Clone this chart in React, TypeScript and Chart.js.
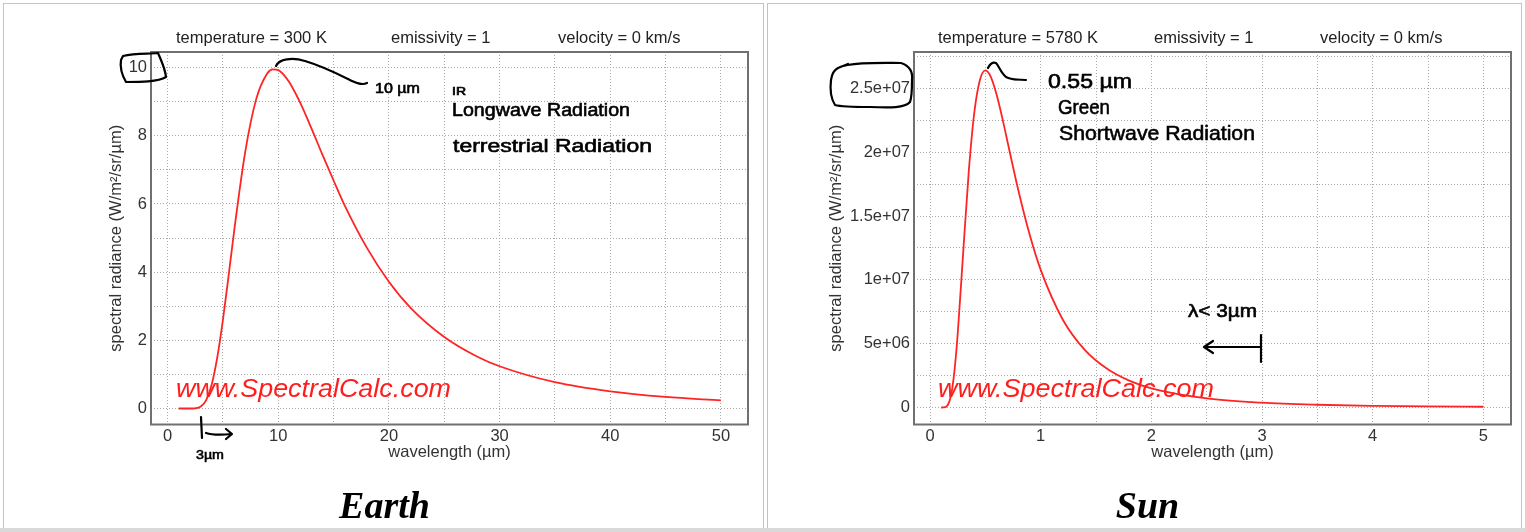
import React, { useEffect, useRef } from "react";
import { Chart, registerables } from "chart.js";
Chart.register(...registerables);

// ---------- data ----------
const earthWavelength = [1, 1.5, 2, 2.5, 3, 3.5, 4, 4.5, 5, 5.5, 6, 7, 8, 9, 9.5, 10, 10.5, 11, 12, 13, 14, 15, 16, 18, 20, 22, 25, 28, 30, 35, 40, 45, 50];
const earthRadiance = [0, 0, 0.0001, 0.006, 0.056, 0.254, 0.72, 1.52, 2.6, 3.86, 5.17, 7.5, 9.07, 9.83, 9.95, 9.93, 9.79, 9.57, 8.96, 8.22, 7.44, 6.69, 5.96, 4.72, 3.72, 2.94, 2.1, 1.52, 1.24, 0.772, 0.502, 0.339, 0.237];

const sunWavelength = [0.1, 0.12, 0.15, 0.175, 0.2, 0.225, 0.25, 0.3, 0.35, 0.4, 0.45, 0.5, 0.55, 0.6, 0.65, 0.7, 0.8, 0.9, 1.0, 1.2, 1.4, 1.6, 1.8, 2.0, 2.5, 3.0, 3.5, 4.0, 4.5, 5.0];
const sunRadiance = [185, 4700, 9.7e4, 4.82e5, 1.465e6, 3.24e6, 5.78e6, 1.221e7, 1.85e7, 2.311e7, 2.564e7, 2.641e7, 2.589e7, 2.456e7, 2.279e7, 2.082e7, 1.694e7, 1.355e7, 1.078e7, 6.88e6, 4.5e6, 3.04e6, 2.11e6, 1.506e6, 7.14e5, 3.79e5, 2.188e5, 1.347e5, 8.74e4, 5.91e4];

const earthXGrid = [0, 5, 10, 15, 20, 25, 30, 35, 40, 45, 50];
const earthXLabels = [0, 10, 20, 30, 40, 50];
const earthYGrid = [0, 1, 2, 3, 4, 5, 6, 7, 8, 9, 10];
const earthYLabels = [0, 2, 4, 6, 8, 10];

const sunXGrid = [0, 0.5, 1, 1.5, 2, 2.5, 3, 3.5, 4, 4.5, 5];
const sunXLabels = [0, 1, 2, 3, 4, 5];
const sunYGrid = [0, 2.5e6, 5e6, 7.5e6, 1e7, 1.25e7, 1.5e7, 1.75e7, 2e7, 2.25e7, 2.5e7, 2.75e7];
const sunYLabelValues = [0, 5e6, 1e7, 1.5e7, 2e7, 2.5e7];
const sunYLabelTexts = ["0", "5e+06", "1e+07", "1.5e+07", "2e+07", "2.5e+07"];

const FONT = "'Liberation Sans', Arial, Helvetica, sans-serif";
const TEXT = "#333";
const GRID = "#a9a9a9";
const RED = "rgb(255,36,36)";
const FS = 16.5;

const framePlugin = {
  id: "frame",
  afterDraw(chart: any) {
    const { ctx, chartArea: a } = chart;
    ctx.save();
    ctx.strokeStyle = "#707070";
    ctx.lineWidth = 2;
    ctx.strokeRect(a.left, a.top, a.right - a.left, a.bottom - a.top);
    ctx.restore();
  },
};

type Cfg = {
  xs: number[];
  ys: number[];
  xMin: number;
  xMax: number;
  yMin: number;
  yMax: number;
  xGrid: number[];
  xLabel: (v: number) => string;
  yGrid: number[];
  yLabel: (v: number) => string;
  yAxisWidth: number;
  yTitlePad: number;
  padRight: number;
};

function makeConfig(c: Cfg): any {
  return {
    type: "scatter",
    data: {
      datasets: [
        {
          data: c.xs.map((x, i) => ({ x, y: c.ys[i] })),
          showLine: true,
          borderColor: RED,
          borderWidth: 1.8,
          pointRadius: 0,
          cubicInterpolationMode: "monotone",
          fill: false,
        },
      ],
    },
    options: {
      responsive: false,
      animation: false,
      devicePixelRatio: 1,
      layout: { padding: { left: 0, top: 52, right: c.padRight, bottom: 0 } },
      plugins: { legend: { display: false }, tooltip: { enabled: false } },
      scales: {
        x: {
          type: "linear",
          min: c.xMin,
          max: c.xMax,
          afterBuildTicks: (s: any) => {
            s.ticks = c.xGrid.map((v) => ({ value: v }));
          },
          afterFit: (s: any) => {
            s.height = 107.5;
          },
          ticks: {
            callback: (v: any) => c.xLabel(Number(v)),
            font: { size: FS, family: FONT },
            color: TEXT,
            padding: 2,
            maxRotation: 0,
            autoSkip: false,
          },
          grid: { color: GRID, drawTicks: false, lineWidth: 1 },
          border: { display: false, dash: [1, 2] },
          title: {
            display: true,
            text: "wavelength (µm)",
            font: { size: FS, family: FONT },
            color: TEXT,
            padding: { top: 0, bottom: 70 },
          },
        },
        y: {
          type: "linear",
          min: c.yMin,
          max: c.yMax,
          afterBuildTicks: (s: any) => {
            s.ticks = c.yGrid.map((v) => ({ value: v }));
          },
          afterFit: (s: any) => {
            s.width = c.yAxisWidth;
          },
          ticks: {
            callback: (v: any) => c.yLabel(Number(v)),
            font: { size: FS, family: FONT },
            color: TEXT,
            padding: 4,
            autoSkip: false,
          },
          grid: { color: GRID, drawTicks: false, lineWidth: 1 },
          border: { display: false, dash: [1, 2] },
          title: {
            display: true,
            text: "spectral radiance (W/m²/sr/µm)",
            font: { size: FS, family: FONT },
            color: TEXT,
            padding: { top: c.yTitlePad, bottom: 0 },
          },
        },
      },
    },
    plugins: [framePlugin],
  };
}

function PlotCanvas({ cfg, left, width }: { cfg: Cfg; left: number; width: number }) {
  const ref = useRef<HTMLCanvasElement | null>(null);
  useEffect(() => {
    if (!ref.current) return;
    const chart = new Chart(ref.current, makeConfig(cfg));
    return () => chart.destroy();
  }, []);
  return (
    <canvas
      ref={ref}
      width={width}
      height={532}
      style={{ position: "absolute", left, top: 0, width, height: 532 }}
    />
  );
}

const earthCfg: Cfg = {
  xs: earthWavelength,
  ys: earthRadiance,
  xMin: -1.5,
  xMax: 52.45,
  yMin: -0.47,
  yMax: 10.46,
  xGrid: earthXGrid,
  xLabel: (v) => (earthXLabels.includes(v) ? String(v) : ""),
  yGrid: earthYGrid,
  yLabel: (v) => (earthYLabels.includes(v) ? String(v) : ""),
  yAxisWidth: 151,
  yTitlePad: 107,
  padRight: 17,
};

const sunCfg: Cfg = {
  xs: sunWavelength,
  ys: sunRadiance,
  xMin: -0.145,
  xMax: 5.25,
  yMin: -1.33e6,
  yMax: 2.785e7,
  xGrid: sunXGrid,
  xLabel: (v) => (sunXLabels.includes(v) ? String(v) : ""),
  yGrid: sunYGrid,
  yLabel: (v) => {
    const i = sunYLabelValues.indexOf(v);
    return i >= 0 ? sunYLabelTexts[i] : "";
  },
  yAxisWidth: 149,
  yTitlePad: 62,
  padRight: 14,
};

const ink = { fill: "none", stroke: "#000", strokeWidth: 2.2, strokeLinecap: "round" as const, strokeLinejoin: "round" as const };
const hand = { fontFamily: FONT, fill: "#000", stroke: "#000", strokeWidth: 0.6 };

export default function App() {
  useEffect(() => {
    document.body.style.margin = "0";
  }, []);
  return (
    <div style={{ position: "absolute", left: 0, top: 0, width: 1525, height: 532, background: "#fff", overflow: "hidden" }}>
      <div style={{ position: "absolute", left: 3, top: 3, width: 761, height: 526, border: "1px solid #c4c4c4", boxSizing: "border-box" }} />
      <div style={{ position: "absolute", left: 767, top: 3, width: 755, height: 526, border: "1px solid #c4c4c4", boxSizing: "border-box" }} />
      <div style={{ position: "absolute", left: 0, top: 528, width: 1525, height: 4, background: "#d9d9d9" }} />
      <PlotCanvas cfg={earthCfg} left={0} width={765} />
      <PlotCanvas cfg={sunCfg} left={765} width={760} />
      <svg width={1525} height={532} style={{ position: "absolute", left: 0, top: 0, pointerEvents: "none" }}>
        {/* headers */}
        <g style={{ fontFamily: FONT, fontSize: 16.5 }} fill="#222">
          <text x={176} y={43}>temperature = 300 K</text>
          <text x={391} y={43}>emissivity = 1</text>
          <text x={558} y={43}>velocity = 0 km/s</text>
          <text x={938} y={43}>temperature = 5780 K</text>
          <text x={1154} y={43}>emissivity = 1</text>
          <text x={1320} y={43}>velocity = 0 km/s</text>
        </g>
        {/* watermarks */}
        <g style={{ fontFamily: FONT, fontSize: 26, fontStyle: "italic" }} fill="#ff1e1e">
          <text x={176} y={397} textLength={275} lengthAdjust="spacingAndGlyphs">www.SpectralCalc.com</text>
          <text x={938} y={397} textLength={276} lengthAdjust="spacingAndGlyphs">www.SpectralCalc.com</text>
        </g>
        {/* panel titles */}
        <g style={{ fontFamily: "'Liberation Serif', 'Times New Roman', serif", fontSize: 38, fontStyle: "italic", fontWeight: "bold" }} fill="#000">
          <text x={384.5} y={518} textAnchor="middle">Earth</text>
          <text x={1147.5} y={518} textAnchor="middle">Sun</text>
        </g>
        {/* handwritten annotations: Earth */}
        <path {...ink} d="M123,56 C135,53 148,54 158,53 C161,60 165,68 166,77 C158,82 140,82 126,82 C122,75 120,66 121,60 Z" />
        <path {...ink} d="M276,66 C279,59 292,57 305,61 C325,67 342,76 352,81 C358,84 363,85 367,83" />
        <text {...hand} x={375} y={93} fontSize={14} textLength={45} lengthAdjust="spacingAndGlyphs">10 µm</text>
        <text {...hand} x={452} y={95} fontSize={10} textLength={14} lengthAdjust="spacingAndGlyphs">IR</text>
        <text {...hand} x={452} y={116} fontSize={18} textLength={178} lengthAdjust="spacingAndGlyphs">Longwave Radiation</text>
        <text {...hand} x={453} y={152} fontSize={18} textLength={199} lengthAdjust="spacingAndGlyphs">terrestrial Radiation</text>
        <path {...ink} d="M201,417 L202,438" />
        <path {...ink} d="M206,433 C212,435 222,435 232,434 M226,429 L232,434 L226,439" />
        <text {...hand} x={196} y={459} fontSize={13} textLength={28} lengthAdjust="spacingAndGlyphs">3µm</text>
        {/* handwritten annotations: Sun */}
        <path {...ink} d="M838,68 C850,62 880,63 901,63 C910,66 913,72 912,80 C912,90 912,97 910,102 C905,108 890,108 870,107 C855,107 842,107 835,105 C830,97 830,88 831,80 C832,73 834,70 838,68 M838,68 L848,64" />
        <path {...ink} d="M988,68 C990,64 993,62 996,63 C999,66 1001,73 1006,77 C1012,80 1020,80 1026,80" />
        <text {...hand} x={1048} y={88} fontSize={20} textLength={84} lengthAdjust="spacingAndGlyphs">0.55 µm</text>
        <text {...hand} x={1058} y={114} fontSize={21} textLength={52} lengthAdjust="spacingAndGlyphs">Green</text>
        <text {...hand} x={1059} y={140} fontSize={21} textLength={196} lengthAdjust="spacingAndGlyphs">Shortwave Radiation</text>
        <text {...hand} x={1188} y={317} fontSize={18} textLength={69} lengthAdjust="spacingAndGlyphs">λ&lt; 3µm</text>
        <path {...ink} d="M1261,335 L1261,362" />
        <path {...ink} d="M1261,347 L1205,347 M1213,341 L1204,347 L1213,353" />
      </svg>
    </div>
  );
}
